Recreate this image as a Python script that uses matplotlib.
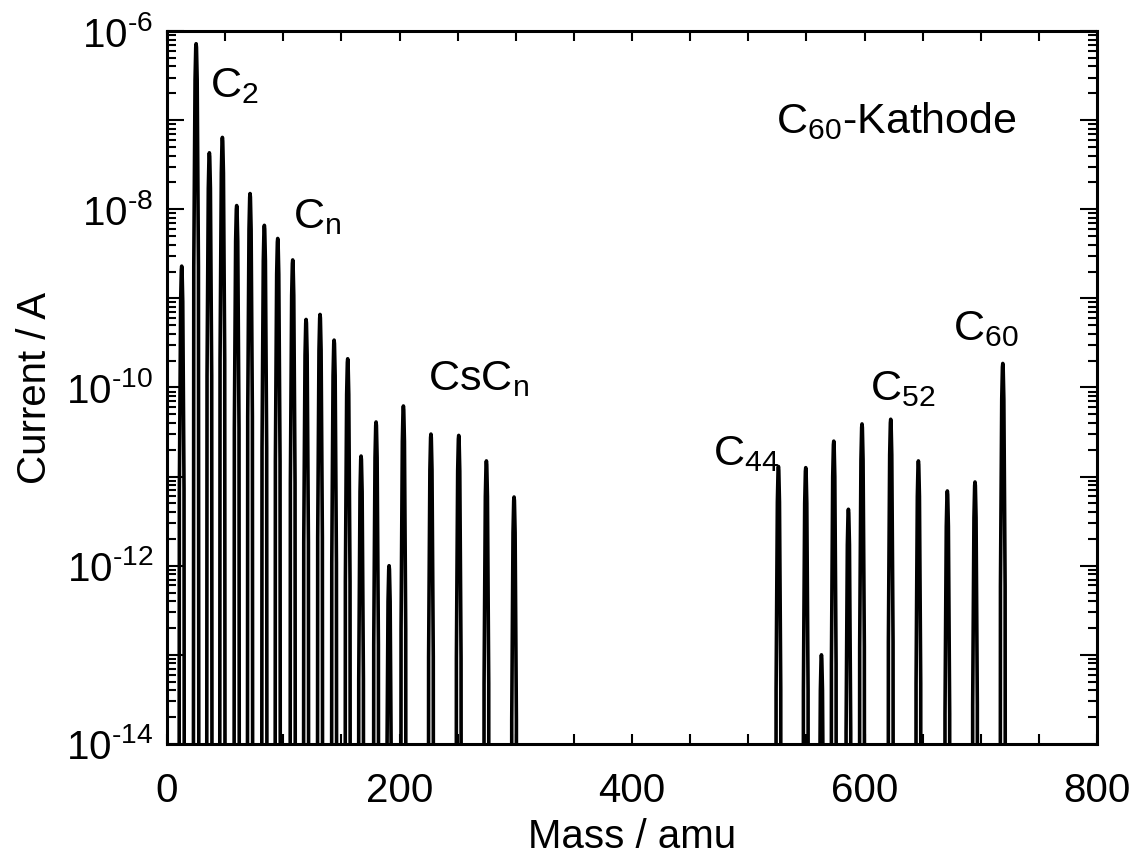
import numpy as np
import matplotlib
matplotlib.use("Agg")
import matplotlib.pyplot as plt
from matplotlib.ticker import FixedLocator, FixedFormatter, LogLocator, MultipleLocator, NullFormatter

plt.rcParams['font.family'] = ['Liberation Sans', 'DejaVu Sans']
plt.rcParams['mathtext.fontset'] = 'custom'
plt.rcParams['mathtext.rm'] = 'Liberation Sans'
plt.rcParams['mathtext.it'] = 'Liberation Sans:italic'
plt.rcParams['mathtext.bf'] = 'Liberation Sans:bold'

# C_n and CsC_n peaks (mass in amu, peak current in A)
mass_low = [12.6, 25.0, 36.4, 47.6, 59.9, 71.4, 83.7, 95.2, 108.1, 119.6, 131.6,
            143.7, 155.4, 166.9, 179.8, 191.0, 203.3, 227.0, 250.9, 274.7, 298.5]
current_low = [2.3e-9, 7.2e-7, 4.3e-8, 6.4e-8, 1.1e-8, 1.5e-8, 6.6e-9, 4.7e-9, 2.7e-9,
               5.8e-10, 6.6e-10, 3.4e-10, 2.1e-10, 1.7e-11, 4.1e-11, 1.0e-12, 6.2e-11,
               3.0e-11, 2.9e-11, 1.5e-11, 5.9e-12]

# fullerene fragments C44 ... C60
mass_high = [525.9, 549.4, 562.9, 573.5, 586.1, 597.8, 622.5, 646.3, 671.2, 695.0, 718.9]
current_high = [1.3e-11, 1.26e-11, 1.0e-13, 2.5e-11, 4.3e-12, 3.9e-11, 4.4e-11,
                1.5e-11, 6.9e-12, 8.7e-12, 1.86e-10]

# peak outline: mass offset (amu) and drop below peak top (decades)
peak_dx = np.array([-2.3, -2.0, -0.9, -0.3, 0.0, 0.3, 0.9, 2.0, 2.3])
peak_drop = np.array([8.0, 2.5, 0.4, 0.04, 0.0, 0.04, 0.4, 2.5, 8.0])

masses = np.array(mass_low + mass_high)
currents = np.array(current_low + current_high)
xs, ys = [], []
for m, c in zip(masses, currents):
    xs.append(m + peak_dx)
    ys.append(c * 10.0 ** (-peak_drop))
xs = np.concatenate(xs)
ys = np.concatenate(ys)

fig = plt.figure(figsize=(11.31, 8.57), dpi=100)
ax = fig.add_axes([0.1477, 0.1319, 0.8223, 0.8319])
ax.plot(xs, ys, color='black', lw=2.6, solid_joinstyle='round')

ax.set_yscale('log')
ax.set_xlim(0, 800)
ax.set_ylim(1e-14, 1e-6)

# decade ticks, every other one labelled
exps = list(range(-14, -5))
ylabels = ['10$^{\\mathregular{\u2010%d}}$' % -e if e % 2 == 0 else '' for e in exps]
ax.yaxis.set_major_locator(FixedLocator([10.0 ** e for e in exps]))
ax.yaxis.set_major_formatter(FixedFormatter(ylabels))
ax.yaxis.set_minor_locator(LogLocator(base=10, subs=np.arange(2, 10), numticks=20))
ax.yaxis.set_minor_formatter(NullFormatter())
ax.xaxis.set_major_locator(MultipleLocator(200))
ax.xaxis.set_minor_locator(MultipleLocator(50))

ax.tick_params(which='both', direction='in', top=True, right=True, width=1.5,
               labelsize=29)
ax.tick_params(axis='y', which='major', length=12, pad=10)
ax.tick_params(axis='y', which='minor', length=6.5)
ax.tick_params(axis='x', which='both', length=7, pad=20)
for s in ax.spines.values():
    s.set_linewidth(2.2)

ax.set_xlabel('Mass / amu', fontsize=29, labelpad=6)
ax.set_ylabel('Current / A', fontsize=29, labelpad=9)

fs = 31
ax.text(37, 10 ** -6.74, r'C$_{\mathregular{2}}$', fontsize=fs)
ax.text(108, 10 ** -8.21, r'C$_{\mathregular{n}}$', fontsize=fs)
ax.text(224.5, 10 ** -10.03, r'CsC$_{\mathregular{n}}$', fontsize=fs)
ax.text(470, 10 ** -10.87, r'C$_{\mathregular{44}}$', fontsize=fs)
ax.text(605, 10 ** -10.14, r'C$_{\mathregular{52}}$', fontsize=fs)
ax.text(676, 10 ** -9.47, r'C$_{\mathregular{60}}$', fontsize=fs)
ax.text(524, 10 ** -7.14, r'C$_{\mathregular{60}}$-Kathode', fontsize=fs)

fig.savefig('out.png', dpi=100)
